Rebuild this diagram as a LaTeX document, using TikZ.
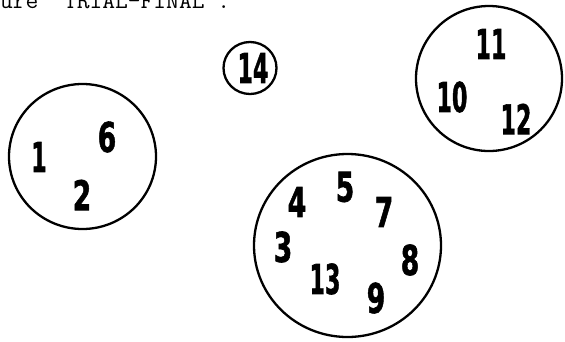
\documentclass[tikz,border=0pt]{standalone}
\usepackage{fontspec}
\usetikzlibrary{shapes.geometric}
\newfontfamily\digfont[FakeBold=1.6]{DejaVu Sans Condensed Bold}
\newcommand\nm[1]{\scalebox{0.72}[1]{#1}}
\newcommand\nn[1]{\scalebox{0.6}[1]{#1}}
\tikzset{
  ring/.style={draw, ellipse, line width=2.3pt, inner sep=0pt},
  num/.style={inner sep=0pt, font=\digfont\fontsize{41}{41}\selectfont},
}
\begin{document}
\begin{tikzpicture}[x=1pt,y=-1pt]
\clip (0,0) rectangle (565,341);
\node[anchor=base west, inner sep=0pt, font=\ttfamily\fontsize{24.8}{24.8}\selectfont] (cap) at (0,8) {ure 'TRIAL-FINAL'.};
% rings
\node[ring, minimum width=147pt, minimum height=145pt] (gA) at (82.5,156.5) {};
\node[ring, minimum width=53pt, minimum height=52pt] (gB) at (250,68) {};
\node[ring, minimum width=146pt, minimum height=145pt] (gC) at (489,78.5) {};
\node[ring, minimum width=187pt, minimum height=183pt] (gD) at (347.5,245.5) {};
% numbers
\node[num] (n1) at (39,157) {\nn{1}};
\node[num] (n6) at (107,137) {\nm{6}};
\node[num] (n2) at (82,195) {\nm{2}};
\node[num] (n14) at (253,68) {\nn{14}};
\node[num] (n11) at (491,44) {\nn{11}};
\node[num] (n10) at (452,97) {\nn{10}};
\node[num] (n12) at (516,119) {\nn{12}};
\node[num] (n5) at (345,187) {\nm{5}};
\node[num] (n4) at (297,202) {\nm{4}};
\node[num] (n7) at (384,212) {\nm{7}};
\node[num] (n3) at (283,247) {\nm{3}};
\node[num] (n8) at (410,260) {\nm{8}};
\node[num] (n13) at (325,279) {\nn{13}};
\node[num] (n9) at (376,298) {\nm{9}};
\end{tikzpicture}
\end{document}
